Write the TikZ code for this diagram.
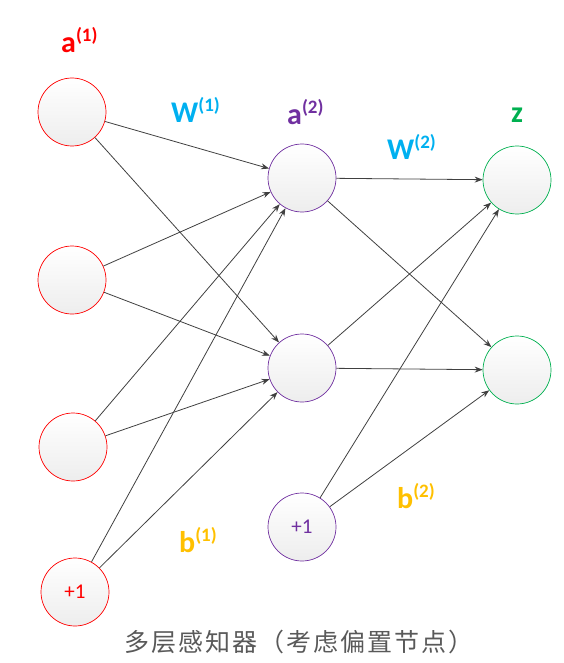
\documentclass[tikz,border=0pt]{standalone}
\usepackage{fontspec}
\setmainfont{Carlito}
\newfontfamily\cjk[LetterSpace=8]{Noto Sans CJK SC}
\usetikzlibrary{arrows.meta}
\definecolor{cred}{HTML}{FF0000}
\definecolor{cpurple}{HTML}{7030A0}
\definecolor{cgreen}{HTML}{00B050}
\definecolor{cblue}{HTML}{00B0F0}
\definecolor{cgold}{HTML}{FFC000}
\definecolor{cline}{HTML}{404040}
\definecolor{ccap}{HTML}{595959}
\tikzset{
  neuron/.style={circle, minimum size=68pt, inner sep=0pt, line width=0.7pt,
    top color=white, bottom color=black!7, font=\fontsize{21}{21}\selectfont},
  lay1/.style={neuron, draw=cred, text=cred},
  lay2/.style={neuron, draw=cpurple, text=cpurple},
  lay3/.style={neuron, draw=cgreen},
  conn/.style={draw=cline, line width=0.8pt, -{Stealth[length=8pt,width=6pt]}},
  lbl/.style={anchor=base west, inner sep=0pt, font=\bfseries\fontsize{30}{30}\selectfont},
}
\newcommand{\supp}[1]{\raisebox{11pt}{\bfseries\fontsize{19}{19}\selectfont(#1)}}
\begin{document}
\begin{tikzpicture}[x=1pt,y=-1pt]
\useasboundingbox (0,0) rectangle (563,663);
% layer 1
\node[lay1] (i1) at (72,112) {};
\node[lay1] (i2) at (72,280) {};
\node[lay1] (i3) at (73,447) {};
\node[lay1] (i4) at (75,592) {+1};
% layer 2
\node[lay2] (h1) at (302,178) {};
\node[lay2] (h2) at (302,368) {};
\node[lay2] (h3) at (302,527) {+1};
% layer 3
\node[lay3] (o1) at (517,180) {};
\node[lay3] (o2) at (517,370) {};
% connections
\foreach \s in {i1,i2,i3,i4}{
  \foreach \t in {h1,h2}{
    \draw[conn] (\s) -- (\t);
  }
}
\foreach \s in {h1,h2,h3}{
  \foreach \t in {o1,o2}{
    \draw[conn] (\s) -- (\t);
  }
}
% labels
\node[lbl, text=cred] (la1) at (61,53) {a\supp{1}};
\node[lbl, text=cblue] (lw1) at (171,123) {W\supp{1}};
\node[lbl, text=cpurple] (la2) at (287,125) {a\supp{2}};
\node[lbl, text=cblue] (lw2) at (387,160) {W\supp{2}};
\node[lbl, text=cgreen] (lz) at (511,123) {z};
\node[lbl, text=cgold] (lb1) at (179,552) {b\supp{1}};
\node[lbl, text=cgold] (lb2) at (397,508) {b\supp{2}};
% caption
\node[text=ccap, font=\cjk\fontsize{25}{25}\selectfont, inner sep=0pt] (cap) at (299,642) {多层感知器（考虑偏置节点）};
\end{tikzpicture}
\end{document}
